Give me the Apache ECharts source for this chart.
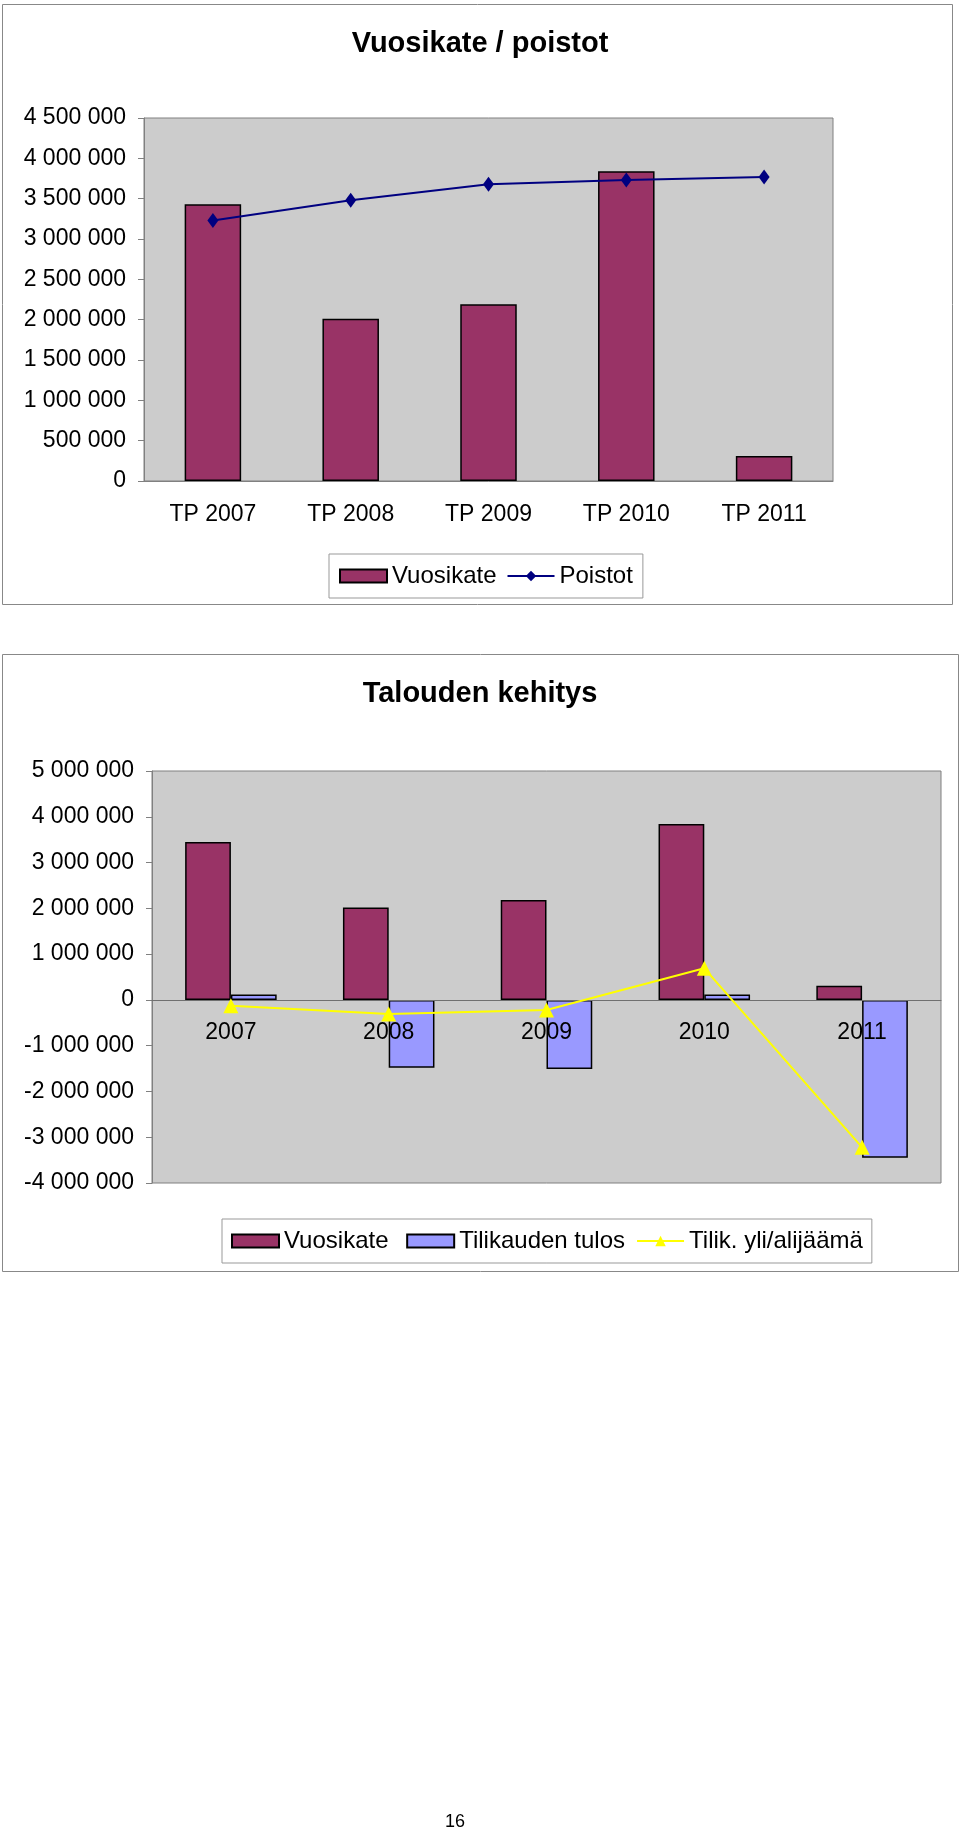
<!DOCTYPE html>
<html>
<head>
<meta charset="utf-8">
<script src="https://cdn.jsdelivr.net/npm/echarts@6/dist/echarts.min.js"></script>
<style>
html, body { margin: 0; padding: 0; background: #fff; }
#chart { width: 960px; height: 1831px; }
</style>
</head>
<body>
<div id="chart"></div>
<script>
// Vuosikate / poistot
var vuodet1 = ['TP 2007', 'TP 2008', 'TP 2009', 'TP 2010', 'TP 2011'];
var vuosikate = [3430000, 2010000, 2190000, 3840000, 310000];
var poistot = [3230000, 3480000, 3680000, 3730000, 3770000];

// Talouden kehitys
var vuodet2 = ['2007', '2008', '2009', '2010', '2011'];
var vuosikate2 = [3450000, 2020000, 2180000, 3840000, 310000];
var tilikaudenTulos = [120000, -1480000, -1510000, 120000, -3450000];
var ylijaama = [-130000, -310000, -220000, 690000, -3220000];

var fontFam = '"Liberation Sans", Arial, sans-serif';
var gridGray = '#808080';

// y range of the second chart, used for the axis too
var min2 = -4000000, max2 = 5000000;
var grid2Top = 771, grid2Height = 412;
// x axis of the 2nd chart sits on the zero line
var zeroOffset = -grid2Height * (0 - min2) / (max2 - min2);

function fmt(v) {
    return String(v).replace(/\B(?=(\d{3})+(?!\d))/g, ' ');
}

var dom = document.getElementById('chart');
var myChart = echarts.init(dom, null, { renderer: 'canvas' });

var option = {
    backgroundColor: '#fff',
    animation: false,
    textStyle: { fontFamily: fontFam },
    title: [
        {
            text: 'Vuosikate / poistot',
            left: 'center',
            top: 24,
            textStyle: { fontSize: 29, fontWeight: 'bold', color: '#000', fontFamily: fontFam }
        },
        {
            text: 'Talouden kehitys',
            left: 'center',
            top: 674,
            textStyle: { fontSize: 29, fontWeight: 'bold', color: '#000', fontFamily: fontFam }
        }
    ],
    legend: [
        {
            data: [{ name: 'Vuosikate', icon: 'rect' }, 'Poistot'],
            left: 329,
            top: 554,
            itemWidth: 47,
            itemHeight: 13,
            itemGap: 10,
            padding: [10, 10],
            borderColor: '#999',
            borderWidth: 1,
            textStyle: { fontSize: 24, color: '#000', fontFamily: fontFam }
        },
        {
            data: [{ name: 'Vuosikate ', icon: 'rect' }, { name: 'Tilikauden tulos', icon: 'rect' }, 'Tilik. yli/alijäämä'],
            left: 222,
            top: 1219,
            itemWidth: 47,
            itemHeight: 13,
            itemGap: 11,
            padding: [10, 9],
            borderColor: '#999',
            borderWidth: 1,
            textStyle: { fontSize: 24, color: '#000', fontFamily: fontFam }
        }
    ],
    grid: [
        { left: 144, top: 118, width: 689, height: 363, show: true, backgroundColor: '#cccccc', borderColor: gridGray, borderWidth: 1 },
        { left: 152, top: grid2Top, width: 789, height: grid2Height, show: true, backgroundColor: '#cccccc', borderColor: gridGray, borderWidth: 1 }
    ],
    xAxis: [
        {
            type: 'category', gridIndex: 0, data: vuodet1,
            axisLine: { lineStyle: { color: gridGray } },
            axisTick: { length: 7, lineStyle: { color: gridGray } },
            axisLabel: { fontSize: 23, color: '#000', margin: 22, fontFamily: fontFam }
        },
        {
            type: 'category', gridIndex: 0, data: vuodet1, position: 'bottom',
            axisLine: { show: false, onZero: false },
            axisTick: { inside: true, length: 7, lineStyle: { color: gridGray } },
            axisLabel: { show: false }
        },
        {
            type: 'category', gridIndex: 1, data: vuodet2, position: 'bottom', offset: zeroOffset, z: 3,
            axisLine: { onZero: false, lineStyle: { color: '#707070' } },
            axisTick: { length: 7, lineStyle: { color: gridGray } },
            axisLabel: { fontSize: 23, color: '#000', margin: 21, fontFamily: fontFam }
        },
        {
            type: 'category', gridIndex: 1, data: vuodet2, position: 'bottom', offset: zeroOffset, z: 3,
            axisLine: { show: false, onZero: false },
            axisTick: { inside: true, length: 7, lineStyle: { color: gridGray } },
            axisLabel: { show: false }
        }
    ],
    yAxis: [
        {
            type: 'value', gridIndex: 0, min: 0, max: 4500000, interval: 500000,
            axisLine: { show: true, lineStyle: { color: gridGray } },
            axisTick: { show: true, length: 6, lineStyle: { color: gridGray } },
            splitLine: { show: false },
            axisLabel: { fontSize: 23, color: '#000', margin: 18, formatter: fmt, fontFamily: fontFam }
        },
        {
            type: 'value', gridIndex: 1, min: min2, max: max2, interval: 1000000,
            axisLine: { show: true, onZero: false, lineStyle: { color: gridGray } },
            axisTick: { show: true, length: 6, lineStyle: { color: gridGray } },
            splitLine: { show: false },
            axisLabel: { fontSize: 23, color: '#000', margin: 18, formatter: fmt, fontFamily: fontFam }
        }
    ],
    series: [
        {
            name: 'Vuosikate', type: 'bar', xAxisIndex: 0, yAxisIndex: 0,
            data: vuosikate, barCategoryGap: '59%',
            itemStyle: { color: '#993366', borderColor: '#000', borderWidth: 1.5 }
        },
        {
            name: 'Poistot', type: 'line', xAxisIndex: 0, yAxisIndex: 0,
            data: poistot, symbol: 'diamond', symbolSize: [11, 15],
            itemStyle: { color: '#000080' },
            lineStyle: { color: '#000080', width: 2 }
        },
        {
            name: 'Vuosikate ', type: 'bar', xAxisIndex: 2, yAxisIndex: 1,
            data: vuosikate2, barGap: '0%', barCategoryGap: '42%',
            itemStyle: { color: '#993366', borderColor: '#000', borderWidth: 1.5 }
        },
        {
            name: 'Tilikauden tulos', type: 'bar', xAxisIndex: 2, yAxisIndex: 1,
            data: tilikaudenTulos, barGap: '0%', barCategoryGap: '42%',
            itemStyle: { color: '#9999ff', borderColor: '#000', borderWidth: 1.5 }
        },
        {
            name: 'Tilik. yli/alijäämä', type: 'line', xAxisIndex: 2, yAxisIndex: 1,
            data: ylijaama, symbol: 'triangle', symbolSize: 15, z: 5,
            itemStyle: { color: '#ffff00' },
            lineStyle: { color: '#ffff00', width: 2 }
        }
    ],
    graphic: [
        { type: 'rect', shape: { x: 2.5, y: 4.5, width: 950, height: 600 }, style: { fill: 'none', stroke: '#888', lineWidth: 1 } },
        { type: 'rect', shape: { x: 2.5, y: 654.5, width: 956, height: 617 }, style: { fill: 'none', stroke: '#888', lineWidth: 1 } },
        { type: 'text', x: 455, y: 1822, style: { text: '16', fontSize: 18, fill: '#000', font: '18px ' + fontFam, textAlign: 'center', textVerticalAlign: 'middle' } }
    ]
};

if (option && typeof option === 'object') {
    myChart.setOption(option);
}

window.addEventListener('resize', myChart.resize);
</script>
</body>
</html>
